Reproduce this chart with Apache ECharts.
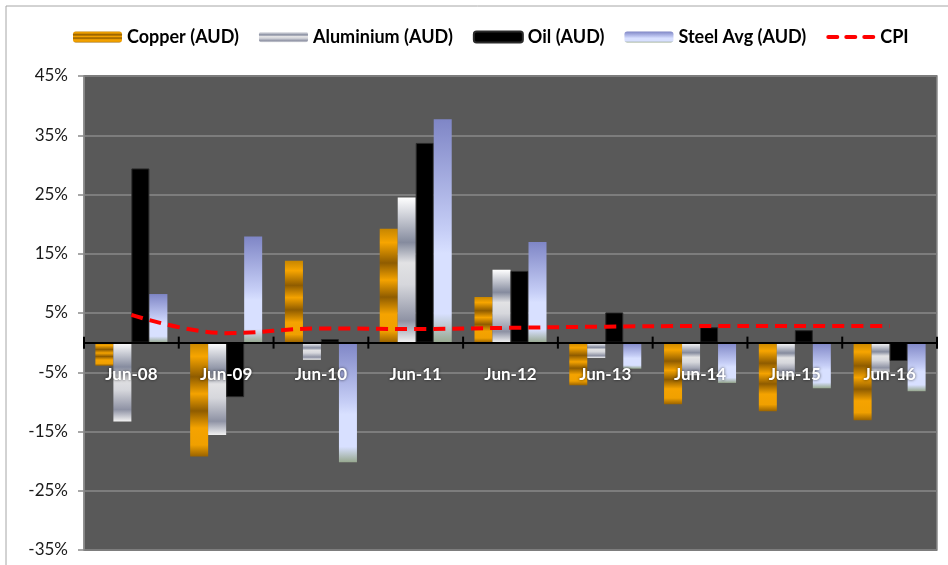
<!DOCTYPE html>
<html>
<head>
<meta charset="utf-8">
<script src="https://cdn.jsdelivr.net/npm/echarts@6/dist/echarts.min.js"></script>
<style>
  html, body { margin: 0; padding: 0; background: #fff; }
  #chart { width: 948px; height: 565px; }
</style>
</head>
<body>
<div id="chart"></div>
<script>
// values in %
const categories = ['Jun-08', 'Jun-09', 'Jun-10', 'Jun-11', 'Jun-12', 'Jun-13', 'Jun-14', 'Jun-15', 'Jun-16']
const copper = [-3.9, -19.2, 13.8, 19.2, 7.7, -7.2, -10.4, -11.6, -13.1]
const aluminium = [-13.3, -15.6, -2.9, 24.5, 12.3, -2.6, -5.5, -5.7, -5.0]
const oil = [29.4, -9.2, 0.6, 33.7, 12.1, 5.1, 2.6, 2.1, -3.1]
const steel = [8.2, 17.9, -20.2, 37.7, 17.0, -4.4, -6.8, -7.7, -8.2]
const cpi = [4.7, 1.6, 2.4, 2.3, 2.5, 2.7, 2.8, 2.8, 2.8]

const font = 'Lato, "Open Sans", sans-serif'

const grad = stops => new echarts.graphic.LinearGradient(0, 0, 0, 1,
  stops.map(s => ({ offset: s[0], color: s[1] })))

const copperFill = grad([
  [0, '#c78600'], [0.12, '#f7a500'], [0.3, '#8f5c00'], [0.45, '#f5a300'],
  [0.6, '#8f5c00'], [0.75, '#f5a300'], [0.9, '#f0a000'], [1, '#9a6300']
])
const aluFill = grad([
  [0, '#ffffff'], [0.31, '#858b9e'], [0.45, '#e2e2e4'], [0.6, '#d6d7dc'],
  [0.85, '#8e92a4'], [1, '#f2f2f2']
])
const steelFill = grad([
  [0, '#7f86c6'], [0.5, '#c6cef6'], [0.6, '#d8e0ff'], [0.87, '#d8e0ff'], [1, '#97a88f']
])

const chart = echarts.init(document.getElementById('chart'))

const barSeries = (name, data, itemStyle) => ({
  name: name,
  type: 'bar',
  data: data,
  barWidth: 18,
  barGap: '0%',
  itemStyle: itemStyle
})

// category labels and crossing ticks sit on the zero line, like excel does it
const renderAxisMarks = (params, api) => {
  const p = api.coord([api.value(0), 0])
  const w = api.size([1, 0])[0]
  const tick = x => ({
    type: 'line',
    shape: { x1: x, y1: p[1] - 6, x2: x, y2: p[1] + 6 },
    style: { stroke: '#000', lineWidth: 2 }
  })
  const children = [tick(p[0] - w / 2), {
    type: 'text',
    style: {
      x: p[0],
      y: p[1] + 32,
      text: categories[params.dataIndex],
      align: 'center',
      verticalAlign: 'middle',
      fill: '#fff',
      font: 'bold 17px ' + font,
      textShadowColor: 'rgba(0,0,0,0.7)',
      textShadowBlur: 3
    }
  }]
  if (params.dataIndex === categories.length - 1) children.push(tick(p[0] + w / 2))
  return { type: 'group', children: children }
}

const option = {
  animation: false,
  graphic: [{
    type: 'rect',
    shape: { x: 6, y: 6, width: 1000, height: 600 },
    style: { fill: 'none', stroke: '#a6a6a6', lineWidth: 1 },
    silent: true
  }],
  legend: {
    left: 68,
    top: 23,
    itemWidth: 49,
    itemHeight: 11,
    itemGap: 20,
    textStyle: { fontFamily: font, fontWeight: 'bold', fontSize: 18, color: '#000' },
    data: [
      'Copper (AUD)', 'Aluminium (AUD)', 'Oil (AUD)', 'Steel Avg (AUD)',
      { name: 'CPI', icon: 'path://M2,0h9a2,2 0 0 1 0,4h-9a2,2 0 0 1 0,-4z M20,0h9a2,2 0 0 1 0,4h-9a2,2 0 0 1 0,-4z M38,0h9a2,2 0 0 1 0,4h-9a2,2 0 0 1 0,-4z' }
    ]
  },
  grid: {
    left: 84,
    right: 11,
    top: 76,
    bottom: 15,
    outerBoundsMode: 'none',
    show: true,
    backgroundColor: '#595959',
    borderColor: '#8a8a8a',
    borderWidth: 1.5
  },
  xAxis: {
    type: 'category',
    data: categories,
    axisLine: { onZero: true, lineStyle: { color: '#000', width: 2 } },
    axisTick: { show: false },
    axisLabel: { show: false },
    z: 5
  },
  yAxis: {
    type: 'value',
    min: -35,
    max: 45,
    interval: 10,
    axisLine: { show: true, lineStyle: { color: '#8a8a8a', width: 1.5 } },
    axisTick: { show: true, length: 6, lineStyle: { color: '#8a8a8a', width: 1.5 } },
    axisLabel: {
      margin: 16,
      formatter: '{value}%',
      color: '#1a1a1a',
      fontFamily: font,
      fontSize: 17
    },
    splitLine: { lineStyle: { color: '#7d7d7d', width: 2 } }
  },
  series: [
    barSeries('Copper (AUD)', copper, { color: copperFill }),
    barSeries('Aluminium (AUD)', aluminium, { color: aluFill }),
    barSeries('Oil (AUD)', oil, { color: '#000', borderColor: '#2a2a2a', borderWidth: 1 }),
    barSeries('Steel Avg (AUD)', steel, { color: steelFill }),
    {
      name: 'CPI',
      type: 'line',
      data: cpi,
      smooth: 0.4,
      symbol: 'none',
      z: 10,
      itemStyle: { color: '#ff0000' },
      lineStyle: { color: '#ff0000', width: 4, type: [12, 7] }
    },
    {
      name: 'axisMarks',
      type: 'custom',
      data: categories.map((c, i) => [i]),
      encode: { x: 0 },
      renderItem: renderAxisMarks,
      clip: false,
      silent: true,
      z: 20
    }
  ]
}

chart.setOption(option)
</script>
</body>
</html>
